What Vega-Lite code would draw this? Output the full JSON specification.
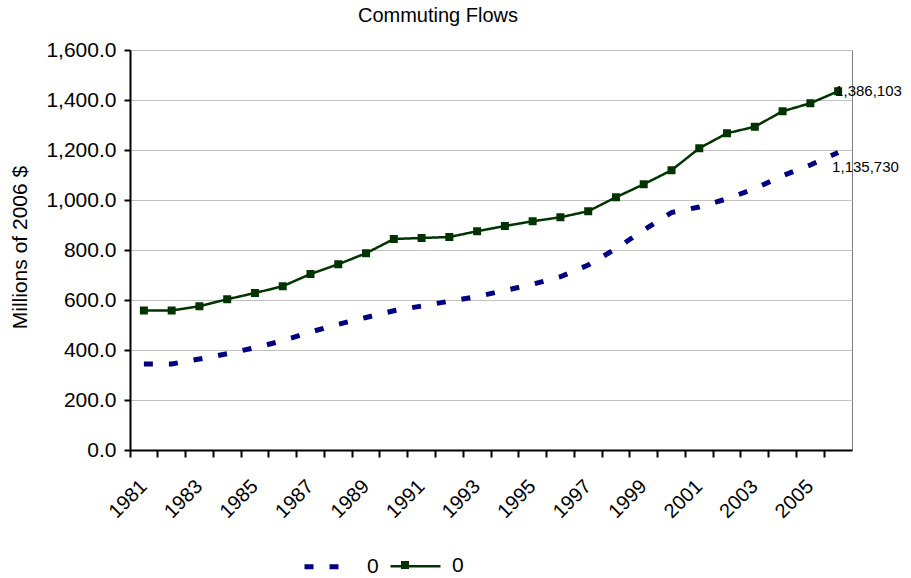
{
  "$schema": "https://vega.github.io/schema/vega-lite/v6.json",
  "width": 722,
  "height": 400,
  "autosize": {"type": "none"},
  "padding": {"left": 130, "top": 50, "right": 59, "bottom": 128},
  "background": "white",
  "config": {"font": "Liberation Sans", "view": {"stroke": "#808080", "strokeWidth": 1}},
  "title": {"text": "Commuting Flows", "fontSize": 20, "fontWeight": "normal", "color": "black", "anchor": "middle", "dx": -53, "offset": 13},
  "data": {"values": [
    {"year": 1981, "series": "A", "value": 344},
    {"year": 1982, "series": "A", "value": 344},
    {"year": 1983, "series": "A", "value": 364},
    {"year": 1984, "series": "A", "value": 385},
    {"year": 1985, "series": "A", "value": 409},
    {"year": 1986, "series": "A", "value": 437},
    {"year": 1987, "series": "A", "value": 472},
    {"year": 1988, "series": "A", "value": 503},
    {"year": 1989, "series": "A", "value": 530},
    {"year": 1990, "series": "A", "value": 557},
    {"year": 1991, "series": "A", "value": 576},
    {"year": 1992, "series": "A", "value": 595},
    {"year": 1993, "series": "A", "value": 614},
    {"year": 1994, "series": "A", "value": 638},
    {"year": 1995, "series": "A", "value": 663},
    {"year": 1996, "series": "A", "value": 693},
    {"year": 1997, "series": "A", "value": 740},
    {"year": 1998, "series": "A", "value": 805},
    {"year": 1999, "series": "A", "value": 880},
    {"year": 2000, "series": "A", "value": 950},
    {"year": 2001, "series": "A", "value": 972},
    {"year": 2002, "series": "A", "value": 1005},
    {"year": 2003, "series": "A", "value": 1045},
    {"year": 2004, "series": "A", "value": 1097},
    {"year": 2005, "series": "A", "value": 1140},
    {"year": 2006, "series": "A", "value": 1190, "label": "1,135,730"},
    {"year": 1981, "series": "B", "value": 558},
    {"year": 1982, "series": "B", "value": 558},
    {"year": 1983, "series": "B", "value": 575},
    {"year": 1984, "series": "B", "value": 603},
    {"year": 1985, "series": "B", "value": 628},
    {"year": 1986, "series": "B", "value": 655},
    {"year": 1987, "series": "B", "value": 704},
    {"year": 1988, "series": "B", "value": 743},
    {"year": 1989, "series": "B", "value": 787},
    {"year": 1990, "series": "B", "value": 844},
    {"year": 1991, "series": "B", "value": 848},
    {"year": 1992, "series": "B", "value": 852},
    {"year": 1993, "series": "B", "value": 875},
    {"year": 1994, "series": "B", "value": 896},
    {"year": 1995, "series": "B", "value": 915},
    {"year": 1996, "series": "B", "value": 931},
    {"year": 1997, "series": "B", "value": 955},
    {"year": 1998, "series": "B", "value": 1011},
    {"year": 1999, "series": "B", "value": 1063},
    {"year": 2000, "series": "B", "value": 1119},
    {"year": 2001, "series": "B", "value": 1207},
    {"year": 2002, "series": "B", "value": 1267},
    {"year": 2003, "series": "B", "value": 1293},
    {"year": 2004, "series": "B", "value": 1355},
    {"year": 2005, "series": "B", "value": 1387},
    {"year": 2006, "series": "B", "value": 1435, "label": "1,386,103"}
  ]},
  "encoding": {
    "x": {"field": "year", "type": "ordinal",
      "scale": {"type": "band", "paddingInner": 0, "paddingOuter": 0},
      "axis": {"title": null, "bandPosition": 0, "labelAngle": -45, "labelAlign": "right", "labelBaseline": "middle",
        "labelFontSize": 20, "labelPadding": 26, "labelColor": "black", "labelOverlap": false, "labelBound": false,
        "labelExpr": "datum.value % 2 === 1 ? datum.label : ''",
        "tickSize": 7, "tickWidth": 2, "tickColor": "black", "domainColor": "black", "domainWidth": 2, "grid": false}},
    "y": {"field": "value", "type": "quantitative",
      "scale": {"domain": [0, 1600], "nice": false},
      "axis": {"title": "Millions of 2006 $", "titleFontSize": 21, "titleFontWeight": "normal", "titleColor": "black",
        "titleX": -110, "titleY": 197, "titleAngle": -90, "titleBaseline": "middle", "titleAlign": "center",
        "values": [0, 200, 400, 600, 800, 1000, 1200, 1400, 1600], "format": ",.1f",
        "labelFontSize": 21, "labelColor": "black", "labelPadding": 8,
        "tickSize": 6, "tickWidth": 2, "tickColor": "black", "domainColor": "black", "domainWidth": 2,
        "gridColor": "#c0c0c0", "gridWidth": 1}}
  },
  "layer": [
    {"mark": {"type": "line"},
     "encoding": {
       "color": {"field": "series", "type": "nominal",
         "scale": {"domain": ["A", "B"], "range": ["#000080", "#003300"]},
         "legend": {"orient": "none", "legendX": 172, "legendY": 489, "direction": "horizontal", "title": null,
           "labelExpr": "'0'", "symbolType": "stroke", "symbolSize": 2500, "symbolStrokeWidth": 4,
           "labelFontSize": 21, "labelOffset": 10, "columnPadding": 6, "labelColor": "black",
           "encode": {"symbols": {"update": {"strokeWidth": {"signal": "datum.value === 'A' ? 6 : 3"}}}}}},
       "strokeDash": {"field": "series", "type": "nominal",
         "scale": {"domain": ["A", "B"], "range": [[9, 16], [1, 0]]}},
       "strokeWidth": {"field": "series", "type": "ordinal",
         "scale": {"domain": ["A", "B"], "range": [5, 2.5]}, "legend": null}
     }},
    {"transform": [{"filter": "datum.series === 'B'"}],
     "mark": {"type": "point", "filled": true, "opacity": 1, "color": "#003300", "size": 64},
     "encoding": {
       "shape": {"field": "series", "type": "nominal",
         "scale": {"domain": ["B"], "range": ["square"]},
         "legend": {"orient": "none", "legendX": 270, "legendY": 510, "title": null, "labelExpr": "''",
           "symbolSize": 64, "symbolFillColor": "#003300", "symbolStrokeColor": "#003300", "symbolStrokeWidth": 0, "symbolOpacity": 1}}
     }},
    {"transform": [{"filter": "datum.series === 'B' && datum.label"}],
     "mark": {"type": "text", "align": "left", "baseline": "middle", "dx": -3, "fontSize": 15, "color": "black"},
     "encoding": {"text": {"field": "label"}}},
    {"transform": [{"filter": "datum.series === 'A' && datum.label"}],
     "mark": {"type": "text", "align": "left", "baseline": "middle", "dx": -6, "dy": 14, "fontSize": 15, "color": "black"},
     "encoding": {"text": {"field": "label"}}}
  ]
}
